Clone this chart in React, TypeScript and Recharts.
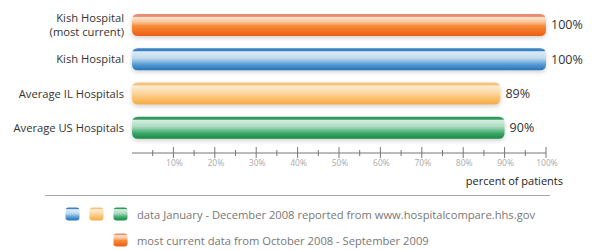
import { BarChart, Bar, XAxis, YAxis, Cell, LabelList, Label } from 'recharts';

const categories = ['Kish Hospital\n(most current)', 'Kish Hospital', 'Average IL Hospitals', 'Average US Hospitals'];
const values = [100, 100, 89, 90];
const xTicks = [5, 10, 15, 20, 25, 30, 35, 40, 45, 50, 55, 60, 65, 70, 75, 80, 85, 90, 95, 100];
const axisTitle = 'percent of patients';
const legendRows = [
  { swatches: ['blue', 'yellow', 'green'], text: 'data January - December 2008 reported from www.hospitalcompare.hhs.gov' },
  { swatches: ['orange'], text: 'most current data from October 2008 - September 2009' },
];
const barColors = ['orange', 'blue', 'yellow', 'green'];

const GRADIENTS: Record<string, [number, string][]> = {
  orange: [[0, '#e88a72'], [0.11, '#ec8d70'], [0.16, '#fde2cb'], [0.35, '#fbc79c'], [0.55, '#f68a36'], [0.85, '#f26b1d'], [1, '#e5611a']],
  blue: [[0, '#3a82c4'], [0.11, '#3a82c4'], [0.16, '#dcebf6'], [0.45, '#bfdaee'], [0.75, '#519ad3'], [1, '#2872b6']],
  yellow: [[0, '#f1c27c'], [0.11, '#f3c47c'], [0.16, '#fdebd2'], [0.45, '#fcd9a6'], [0.75, '#fbbf66'], [1, '#f4ab4c']],
  green: [[0, '#2e975a'], [0.11, '#33995c'], [0.16, '#d6eee1'], [0.45, '#acdabf'], [0.75, '#3aa868'], [1, '#1b8846']],
};

const data = categories.map((name, i) => ({ name, value: values[i], label: `${values[i]}%` }));

const FONT = '"Open Sans", sans-serif';

const GradDefs = ({ prefix }: { prefix: string }) => (
  <defs>
    {Object.entries(GRADIENTS).map(([key, stops]) => (
      <linearGradient key={key} id={`${prefix}-${key}`} x1="0" y1="0" x2="0" y2="1">
        {stops.map(([o, c], j) => (
          <stop key={j} offset={o} stopColor={c} />
        ))}
      </linearGradient>
    ))}
    <filter id={`${prefix}-shadow`} x="-5%" y="-30%" width="110%" height="170%">
      <feDropShadow dx="0" dy="2" stdDeviation="2" floodColor="#000" floodOpacity="0.18" />
    </filter>
  </defs>
);

const roundedPath = (x: number, y: number, w: number, h: number, r: number) =>
  `M${x + r},${y} H${x + w - r} Q${x + w},${y} ${x + w},${y + r} V${y + h - r} Q${x + w},${y + h} ${x + w - r},${y + h} H${x + r} Q${x},${y + h} ${x},${y + h - r} V${y + r} Q${x},${y} ${x + r},${y} Z`;

const BarShape = (props: any) => {
  const { x, y, width, height, fill } = props;
  if (!width || width <= 0) return null;
  return <path d={roundedPath(x, y, width, height, 6)} fill={fill} filter="url(#c-shadow)" />;
};

const YTick = (props: any) => {
  const { x, y, payload } = props;
  const lines = String(payload.value).split('\n');
  const lh = 13.5;
  const start = y - ((lines.length - 1) * lh) / 2;
  return (
    <text x={x} textAnchor="end" fontFamily={FONT} fontSize={11.2} fill="#333">
      {lines.map((l, i) => (
        <tspan key={i} x={x} y={start + i * lh} dy="0.35em">{l}</tspan>
      ))}
    </text>
  );
};

const XTick = (props: any) => {
  const { x, y, payload } = props;
  const major = payload.value % 10 === 0;
  return (
    <g>
      <line x1={x} x2={x} y1={major ? y - 6 : y - 3} y2={major ? y + 5 : y + 3} stroke="#777" strokeWidth={1} />
      {major && (
        <text x={x + 1} y={y + 13} textAnchor="middle" fontFamily={FONT} fontSize={8.5} fill="#aaa">
          {`${payload.value}%`}
        </text>
      )}
    </g>
  );
};

const Swatch = ({ color }: { color: string }) => (
  <svg width={15} height={15} style={{ display: 'block' }}>
    <GradDefs prefix={`s-${color}`} />
    <path d={roundedPath(0.5, 0.5, 14, 13, 3)} fill={`url(#s-${color}-${color})`} />
  </svg>
);

export default function App() {
  return (
    <div style={{ position: 'absolute', left: 0, top: 0, width: 592, height: 251, background: '#fff' }}>
      <BarChart
        width={592}
        height={200}
        data={data}
        layout="vertical"
        margin={{ top: 8, right: 46, bottom: 7, left: 0 }}
      >
        <GradDefs prefix="c" />
        <XAxis
          type="number"
          domain={[0, 100]}
          ticks={xTicks}
          interval={0}
          height={40}
          tickSize={0}
          tickMargin={0}
          tickLine={false}
          axisLine={{ stroke: '#777' }}
          tick={<XTick />}
        >
          <Label
            content={(p: any) => {
              const vb = p.viewBox;
              return (
                <text x={vb.x + vb.width + 17} y={vb.y + 32} textAnchor="end" fontFamily={FONT} fontSize={11} fill="#222">
                  {axisTitle}
                </text>
              );
            }}
          />
        </XAxis>
        <YAxis
          type="category"
          dataKey="name"
          width={132}
          axisLine={false}
          tickLine={false}
          tickSize={0}
          tickMargin={8}
          padding={{ top: 0, bottom: 8 }}
          tick={<YTick />}
        />
        <Bar dataKey="value" barSize={22} isAnimationActive={false} shape={<BarShape />}>
          {data.map((_, i) => (
            <Cell key={i} fill={`url(#c-${barColors[i]})`} />
          ))}
          <LabelList dataKey="label" position="right" offset={5} fontFamily={FONT} fontSize={12.5} fill="#333" />
        </Bar>
      </BarChart>
      <div style={{ position: 'absolute', left: 45, top: 195, width: 505, height: 1, background: '#aaa' }} />
      {legendRows.map((row, r) => (
        <div
          key={r}
          style={{ position: 'absolute', top: r === 0 ? 207 : 233, left: 0, width: 592, height: 15 }}
        >
          {row.swatches.map((c, k) => {
            const left = 128 - 15 - (row.swatches.length - 1 - k) * 24;
            return (
              <div key={c} style={{ position: 'absolute', left, top: 0 }}>
                <Swatch color={c} />
              </div>
            );
          })}
          <div
            style={{ position: 'absolute', left: 137, top: 0, lineHeight: '15px', fontFamily: FONT, fontSize: 11.2, color: '#777', whiteSpace: 'nowrap' }}
          >
            {row.text}
          </div>
        </div>
      ))}
    </div>
  );
}
